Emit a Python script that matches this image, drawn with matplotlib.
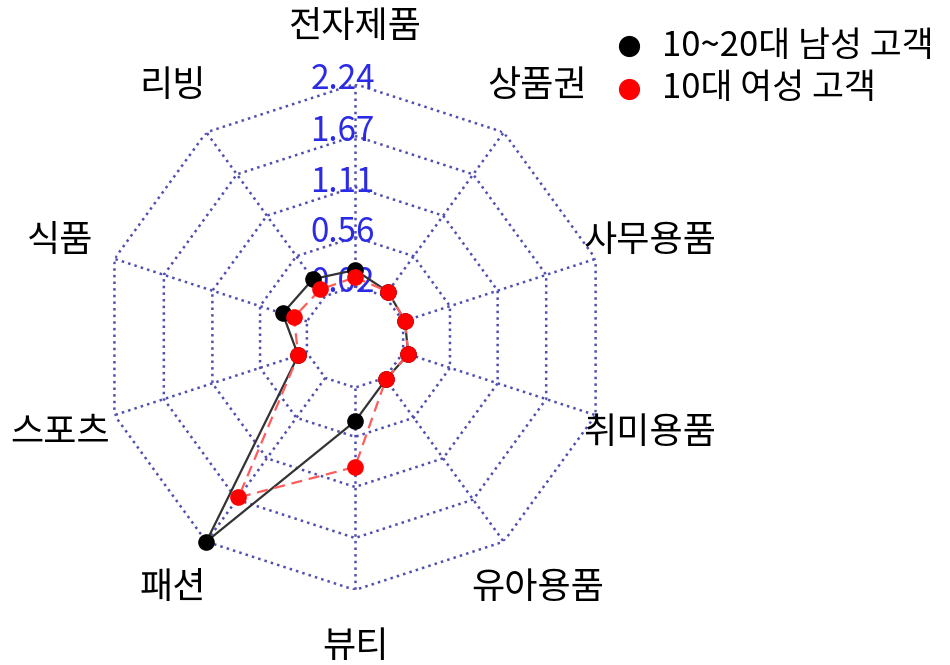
import numpy as np
import matplotlib.pyplot as plt

plt.rcParams['font.family'] = ['Noto Sans CJK KR', 'DejaVu Sans']

# 카테고리 (위에서부터 시계방향)
categories = ['전자제품', '상품권', '사무용품', '취미용품', '유아용품',
              '뷰티', '패션', '스포츠', '식품', '리빙']

# 고객군별 값
male_10_20 = [0.20, 0.08, 0.04, 0.08, 0.04, 0.39, 2.24, 0.12, 0.30, 0.25]
female_10 = [0.12, 0.08, 0.04, 0.08, 0.04, 0.89, 1.64, 0.12, 0.17, 0.11]

# 눈금 값
r_ticks = [0.02, 0.56, 1.11, 1.67, 2.24]
r_labels = ['0.02', '0.56', '1.11', '1.67', '2.24']

n = len(categories)
theta = np.linspace(0, 2 * np.pi, n, endpoint=False)
theta_c = np.append(theta, theta[0])

fig = plt.figure(figsize=(9.5, 6.65), dpi=100)
ax = fig.add_axes([0.1074, 0.1128, 0.5326, 0.7609], projection='polar')
ax.set_theta_offset(np.pi / 2)
ax.set_theta_direction(-1)
ax.set_ylim(-0.535, 2.24)
ax.grid(False)
ax.spines['polar'].set_visible(False)
ax.set_xticks([])
ax.set_yticks([])

grid_c = '#4f4fb0'
# 다각형 격자
for v in r_ticks:
    ax.plot(theta_c, [v] * (n + 1), ls=':', color=grid_c, lw=1.8, zorder=1)
for t in theta:
    ax.plot([t, t], [r_ticks[0], r_ticks[-1]], ls=':', color=grid_c, lw=1.8, zorder=1)

# 눈금 라벨
for v, lbl in zip(r_ticks, r_labels):
    ax.annotate(lbl, xy=(0, v), xytext=(-9, 3), textcoords='offset points',
                ha='center', va='center', color='#2b2be6', fontsize=24, zorder=2)

# 데이터
ax.plot(theta_c, male_10_20 + male_10_20[:1], color='#333333', lw=1.6, zorder=3)
ax.plot(theta_c, female_10 + female_10[:1], color='#ff5c5c', lw=1.6, ls=(0, (5, 3)), zorder=3)
ax.scatter(theta, male_10_20, s=120, color='black', zorder=4, clip_on=False,
           label='10~20대 남성 고객')
ax.scatter(theta, female_10, s=120, color='red', zorder=5, clip_on=False,
           label='10대 여성 고객')

# 카테고리 라벨
for t, c in zip(theta, categories):
    ax.text(t, 2.866, c, ha='center', va='center', fontsize=26)

fig.legend(loc='upper left', bbox_to_anchor=(0.633, 0.978), frameon=False,
           fontsize=25, handlelength=0.8, handletextpad=0.55,
           labelspacing=0.22, markerscale=1.3, borderaxespad=0)

fig.savefig('out.png', dpi=100)
